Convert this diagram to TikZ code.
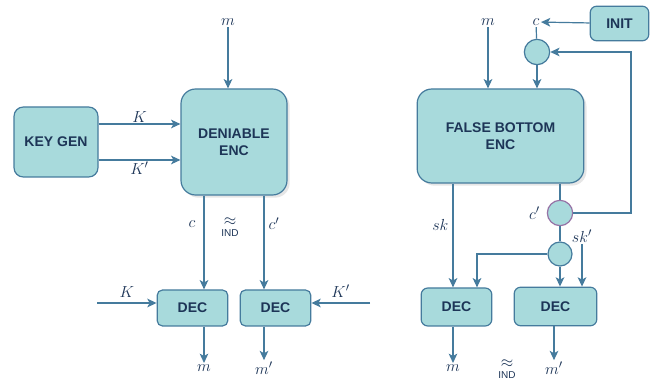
\documentclass[tikz,border=0pt]{standalone}
\usepackage{fontspec}
\setsansfont{Liberation Sans}
\usetikzlibrary{arrows.meta,shadows}
\definecolor{boxfill}{HTML}{A8DADC}
\definecolor{boxline}{HTML}{457B9D}
\definecolor{boxtext}{HTML}{1D3557}
\definecolor{mixline}{HTML}{9673A6}
\tikzset{
  blk/.style={draw=boxline, fill=boxfill, line width=0.9pt, rounded corners=7pt, align=center,
    text=boxtext, font=\fontsize{10.5}{13}\selectfont\sffamily\bfseries, inner sep=0pt},
  bigblk/.style={blk, rounded corners=11pt, drop shadow={opacity=0.2, shadow xshift=2pt, shadow yshift=-2pt}},
  mix/.style={circle, draw=boxline, fill=boxfill, line width=0.9pt, minimum size=19pt, inner sep=0pt},
  lbl/.style={text=boxtext, font=\fontsize{12.5}{14}\selectfont, inner sep=1pt},
  ind/.style={text=boxtext, align=center, font=\fontsize{7.5}{7}\selectfont\sffamily, inner sep=0pt},
  wire/.style={draw=boxline, line width=0.9pt},
}
\newcommand{\indapprox}{{\fontsize{12}{12}\selectfont$\approx$}\\[1.5pt]IND}
\begin{document}
\begin{tikzpicture}[x=0.75pt, y=-0.75pt, >={Stealth[length=7pt, width=6.5pt, inset=1.8pt]}]
\useasboundingbox (0,0) rectangle (657,384);
% deniable encryption
\draw (56,142) node[blk, minimum width=63pt, minimum height=52.5pt] (KG) {KEY GEN};
\draw (234,142) node[bigblk, minimum width=79.5pt, minimum height=79.5pt] (DE) {DENIABLE\\ENC};
\draw (192.5,308) node[blk, rounded corners=4pt, minimum width=53pt, minimum height=27pt] (DA) {DEC};
\draw (275.5,308) node[blk, rounded corners=4pt, minimum width=53pt, minimum height=27pt] (DB) {DEC};
\draw (228,22) node[lbl] (MA) {$m$};
\draw (204,368) node[lbl] (MB) {$m$};
\draw (264,368) node[lbl] (MC) {$m'$};
\draw (97,303) coordinate (KL);
\draw (370,303) coordinate (KR);
\draw (230,227) node[ind] (IA) {\indapprox};
\draw[wire,->] (MA) -- (MA |- DE.north);
\draw[wire,->] (KG.east |- 0,124) -- node[lbl, above] {$K$} (DE.west |- 0,124);
\draw[wire,->] (KG.east |- 0,160) -- node[lbl, below] {$K'$} (DE.west |- 0,160);
\draw[wire,->] (204,0 |- DE.south) -- node[lbl, pos=0.3, left=5pt] {$c$} (204,0 |- DA.north);
\draw[wire,->] (264,0 |- DE.south) -- node[lbl, pos=0.3, right=2pt] {$c'$} (264,0 |- DB.north);
\draw[wire,->] (KL) -- node[lbl, above=3pt, pos=0.5] {$K$} (DA.west |- KL);
\draw[wire,->] (KR) -- node[lbl, above=3pt, pos=0.5] {$K'$} (DB.east |- KR);
\draw[wire,->] (204,0 |- DA.south) -- (MB);
\draw[wire,->] (264,0 |- DB.south) -- (MC);
% false bottom encryption
\draw (619.5,23.5) node[blk, rounded corners=5pt, minimum width=44pt, minimum height=26pt] (IN) {INIT};
\draw (500.5,136) node[bigblk, minimum width=125pt, minimum height=70.5pt] (FB) {FALSE BOTTOM\\ENC};
\draw (456.5,307) node[blk, rounded corners=5pt, minimum width=53pt, minimum height=28.5pt] (DC) {DEC};
\draw (555.5,306.5) node[blk, rounded corners=5pt, minimum width=62pt, minimum height=29pt] (DD) {DEC};
\draw (537,52) node[mix] (XA) {};
\draw (560,213) node[mix, draw=mixline] (XB) {};
\draw (560,254) node[mix, minimum size=18pt] (XC) {};
\draw (488,22) node[lbl] (MD) {$m$};
\draw (536,22) node[lbl] (CA) {$c$};
\draw (453,368) node[lbl] (ME) {$m$};
\draw (554,368) node[lbl] (MF) {$m'$};
\draw (582,236) node[lbl] (SK) {$sk'$};
\draw (631,0) coordinate (FR);
\draw (507,369) node[ind] (IB) {\indapprox};
\draw[wire,->] (MD) -- (MD |- FB.north);
\draw[wire,->] (IN) -- (CA);
\draw[wire] (CA) -- (XA);
\draw[wire,->] (XA) -- (XA |- FB.north);
\draw[wire] (XB |- FB.south) -- (XB);
\draw[wire,->] (XB) -- (FR |- XB) -- (FR |- XA) -- (XA);
\draw (XB.west) node[lbl, left=4pt] {$c'$};
\draw[wire] (XB) -- (XC);
\draw[wire,->] (XC) -| (477,0 |- DC.north);
\draw[wire,->] (XC) -- (XC |- DD.north);
\draw[wire,->] (SK) -- (SK |- DD.north);
\draw[wire,->] (453,0 |- FB.south) -- node[lbl, pos=0.4, left=2pt] {$sk$} (453,0 |- DC.north);
\draw[wire,->] (453,0 |- DC.south) -- (ME);
\draw[wire,->] (554,0 |- DD.south) -- (MF);
\end{tikzpicture}
\end{document}
